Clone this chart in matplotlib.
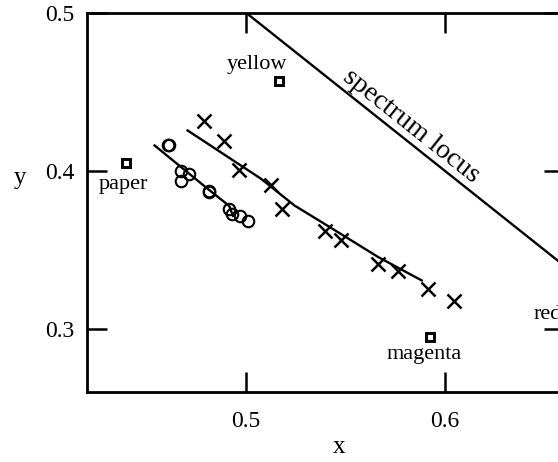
import matplotlib
matplotlib.use("Agg")
import matplotlib.pyplot as plt

# ---- data ----
cross_x = [0.4789, 0.4890, 0.4966, 0.5126, 0.5180, 0.5395, 0.5476, 0.5665, 0.5763, 0.5918, 0.6047]
cross_y = [0.4312, 0.4190, 0.4002, 0.3908, 0.3759, 0.3616, 0.3559, 0.3411, 0.3363, 0.3253, 0.3175]

cross_fit_x = [0.4706, 0.5076, 0.5244, 0.5413, 0.5665, 0.5884]
cross_fit_y = [0.4255, 0.3949, 0.3780, 0.3650, 0.3454, 0.3306]

circle_x = [0.4608, 0.4612, 0.4672, 0.4714, 0.4672, 0.4812, 0.4816, 0.4916, 0.4929, 0.4971, 0.5009]
circle_y = [0.4160, 0.4166, 0.3996, 0.3981, 0.3932, 0.3869, 0.3865, 0.3759, 0.3728, 0.3711, 0.3685]

circle_fit_x = [0.4540, 0.4807, 0.4916, 0.4934]
circle_fit_y = [0.4160, 0.3886, 0.3777, 0.3715]

ref_names = ["paper", "yellow", "magenta", "red"]
ref_x = [0.4394, 0.5165, 0.5926, 0.6600]
ref_y = [0.4051, 0.4568, 0.2947, 0.3280]
label_x = [0.4384, 0.5056, 0.5894, 0.6448]
label_y = [0.3886, 0.4646, 0.2810, 0.3063]
label_ha = ["center", "center", "center", "left"]

locus_x = [0.48, 0.70]
locus_y = [0.52, 0.30]

xticks = [0.5, 0.6]
yticks = [0.3, 0.4, 0.5]

# ---- figure ----
plt.rcParams['font.family'] = ['Liberation Serif', 'DejaVu Serif']
fig = plt.figure(figsize=(5.58, 4.62), dpi=100)
ax = fig.add_axes([87/558, 70/462, 477/558, 379.3/462])
ax.set_xlim(0.42, 0.66)
ax.set_ylim(0.26, 0.50)

lw = 1.7
ax.plot(locus_x, locus_y, color='black', lw=lw)
ax.plot(cross_fit_x, cross_fit_y, color='black', lw=lw)
ax.plot(circle_fit_x, circle_fit_y, color='black', lw=lw)
ax.plot(cross_x, cross_y, ls='none', marker='x', ms=10, mew=1.8, color='black')
ax.plot(circle_x, circle_y, ls='none', marker='o', ms=8.3, mew=1.5, mfc='none', mec='black')
ax.plot(ref_x, ref_y, ls='none', marker='s', ms=6.3, mew=2.1, mfc='white', mec='black', clip_on=False)

for n, tx, ty, ha in zip(ref_names, label_x, label_y, label_ha):
    ax.text(tx, ty, n, ha=ha, va='baseline', fontsize=16)

ax.text(0.5810, 0.4250, "spectrum locus", rotation=-38.5, rotation_mode='anchor',
        ha='center', va='baseline', fontsize=20)

ax.set_xticks(xticks)
ax.set_yticks(yticks)
ax.set_xticklabels([str(v) for v in xticks])
ax.set_yticklabels([str(v) for v in yticks])
ax.tick_params(direction='in', length=14.5, width=1.8, labelsize=17,
               top=True, right=True)
ax.tick_params(axis='x', pad=14)
ax.tick_params(axis='y', pad=9)
for s in ax.spines.values():
    s.set_linewidth(2.0)

ax.set_xlabel('x', fontsize=18, va='center')
ax.set_ylabel('y', fontsize=18, rotation=0, va='center', ha='center')
ax.xaxis.set_label_coords(0.528, -0.146)
ax.yaxis.set_label_coords(-0.140, 0.564)

fig.savefig('out.png', dpi=100)
